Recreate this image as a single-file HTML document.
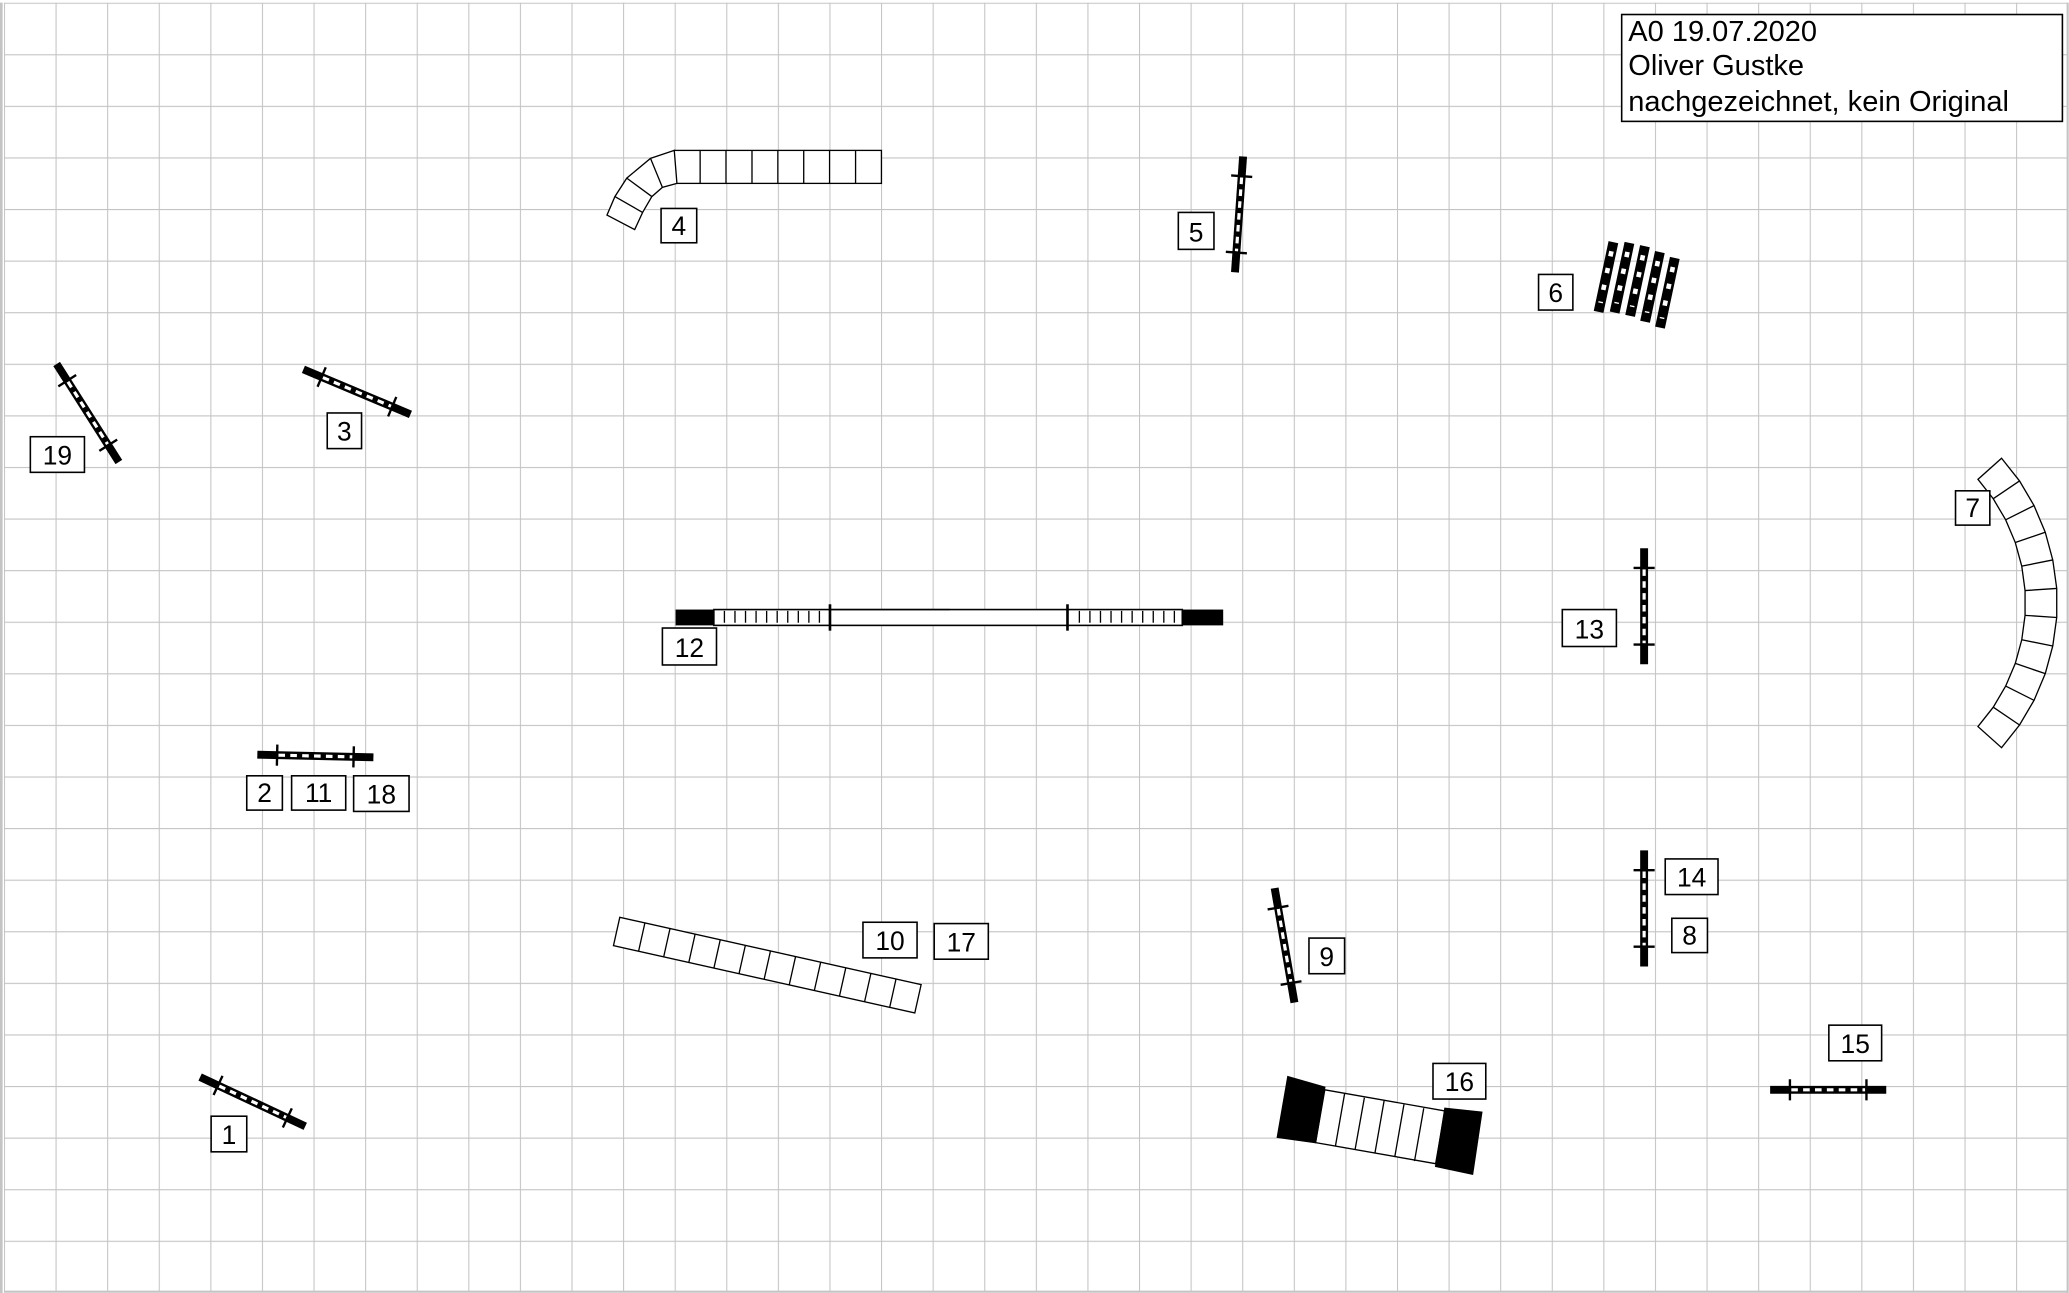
<!DOCTYPE html>
<html><head><meta charset="utf-8"><style>
html,body{margin:0;padding:0;background:#fff}
svg{display:block}
text{font-family:"Liberation Sans",Arial,sans-serif}
</style></head><body>
<svg width="2069" height="1293" viewBox="0 0 1568 980" preserveAspectRatio="none" xmlns="http://www.w3.org/2000/svg">
<defs>
<pattern id="grid" x="3" y="2" width="39.1" height="39.1" patternUnits="userSpaceOnUse">
<path d="M0 0 H39.1 M0 0 V39.1" stroke="#c4c4c4" stroke-width="1.6" fill="none"/>
</pattern>
<g id="j">
<line x1="-44" y1="0" x2="44" y2="0" stroke="#000" stroke-width="6"/>
<line x1="-28" y1="0" x2="28" y2="0" stroke="#fff" stroke-width="2.4" stroke-dasharray="5 4"/>
<line x1="-29" y1="-8" x2="-29" y2="8" stroke="#000" stroke-width="1.8"/>
<line x1="29" y1="-8" x2="29" y2="8" stroke="#000" stroke-width="1.8"/>
</g>
<g id="b">
<line x1="0" y1="-27" x2="0" y2="27" stroke="#000" stroke-width="7.5"/>
<line x1="0" y1="-20" x2="0" y2="20" stroke="#fff" stroke-width="3.5" stroke-dasharray="4 9"/>
</g>
</defs>
<rect x="0" y="0" width="1568" height="980" fill="#fff"/>
<rect x="3" y="2" width="1564" height="977.5" fill="url(#grid)"/>
<line x1="1567" y1="2" x2="1567" y2="980" stroke="#c4c4c4" stroke-width="1.6"/>
<line x1="3" y1="979" x2="1567" y2="979" stroke="#c4c4c4" stroke-width="1.6"/>
<line x1="1" y1="2" x2="1" y2="980" stroke="#c4c4c4" stroke-width="2"/>

<!-- title -->
<rect x="1229" y="11" width="334" height="81" fill="#fff" stroke="#000" stroke-width="1.2"/>
<text x="1234" y="31" font-size="22">A0 19.07.2020</text>
<text x="1234" y="57" font-size="22">Oliver Gustke</text>
<text x="1234" y="84" font-size="22">nachgezeichnet, kein Original</text>

<!-- jumps -->
<use href="#j" transform="translate(66.5,313) rotate(57.6)"/>
<use href="#j" transform="translate(270.5,297) rotate(22.8)"/>
<use href="#j" transform="translate(939,162.5) rotate(94)"/>
<use href="#j" transform="translate(1246,459.5) rotate(90)"/>
<use href="#j" transform="translate(239,573) rotate(1.3)"/>
<use href="#j" transform="translate(1246,688.5) rotate(90)"/>
<use href="#j" transform="translate(973.5,716.5) rotate(80.2)"/>
<use href="#j" transform="translate(1385.5,826) rotate(0)"/>
<use href="#j" transform="translate(191.5,835) rotate(25.1)"/>

<!-- 6 spread -->
<g transform="translate(1241,213) rotate(12)">
<use href="#b" transform="translate(-24,2)"/>
<use href="#b" transform="translate(-12,0)"/>
<use href="#b" transform="translate(0,0)"/>
<use href="#b" transform="translate(12,2)"/>
<use href="#b" transform="translate(24,4)"/>
</g>

<!-- tunnel 4 -->
<g fill="none" stroke="#000" stroke-width="1">
<rect x="511" y="114" width="157" height="25" fill="#fff"/>
<path d="M530.6 114V139M550.2 114V139M569.9 114V139M589.5 114V139M609.1 114V139M628.7 114V139M648.4 114V139"/>
<path d="M511 114 L493 120 L475 135 L466 149 L460 163 L481 174 L487 161 L494 149 L502 142 L513 139 Z" fill="#fff"/>
<path d="M493 120L502 142M475 135L494 149M466 149L487 161"/>
</g>

<!-- tunnel 7 -->
<g fill="#fff" stroke="#000" stroke-width="1">
<path d="M1516.9 347.3 L1530.5 364.5 L1541.5 383.2 L1550 403.4 L1555.7 424.4 L1558.7 446 L1558.7 468 L1555.7 489.6 L1550 510.6 L1541.5 530.8 L1530.5 549.5 L1516.9 566.7 L1499 550.7 L1510.6 536 L1520 520 L1527.3 502.8 L1532.2 484.9 L1534.7 466.4 L1534.7 447.6 L1532.2 429.1 L1527.3 411.2 L1520 394 L1510.6 378 L1499 363.3 Z"/>
<path d="M1530.5 364.5L1510.6 378M1541.5 383.2L1520 394M1550 403.4L1527.3 411.2M1555.7 424.4L1532.2 429.1M1558.7 446L1534.7 447.6M1558.7 468L1534.7 466.4M1555.7 489.6L1532.2 484.9M1550 510.6L1527.3 502.8M1541.5 530.8L1520 520M1530.5 549.5L1510.6 536" fill="none"/>
</g>

<!-- tunnel 10 -->
<g transform="translate(581.5,731.5) rotate(12.6)" fill="#fff" stroke="#000" stroke-width="1">
<rect x="-117" y="-11" width="234" height="22"/>
<path d="M-97.5 -11V11M-78 -11V11M-58.5 -11V11M-39 -11V11M-19.5 -11V11M0 -11V11M19.5 -11V11M39 -11V11M58.5 -11V11M78 -11V11M97.5 -11V11" fill="none"/>
</g>

<!-- dog walk 12 -->
<g stroke="#000">
<rect x="541" y="462" width="355" height="12" fill="#fff" stroke-width="1.2"/>
<rect x="512" y="462" width="29" height="12" fill="#000" stroke="none"/>
<rect x="896" y="462" width="31" height="12" fill="#000" stroke="none"/>
<path d="M549 463V472M557 463V472M565 463V472M573 463V472M581 463V472M589 463V472M597 463V472M605 463V472M613 463V472M621 463V472 M818 463V472M826 463V472M834 463V472M842 463V472M850 463V472M858 463V472M866 463V472M874 463V472M882 463V472M890 463V472" stroke-width="1"/>
<line x1="629" y1="458" x2="629" y2="478" stroke-width="2"/>
<line x1="809" y1="458" x2="809" y2="478" stroke-width="2"/>
<line x1="629" y1="462" x2="720" y2="462" stroke-width="1"/>
</g>

<!-- 16 -->
<g stroke="#000" stroke-width="1">
<polygon points="1004,826 1095,842 1088,882 997,866" fill="#fff"/>
<polygon points="976,816 1004,824 997,866 968,862" fill="#000"/>
<polygon points="1095,840 1123,843 1116,890 1088,884" fill="#000"/>
<path d="M1019 829L1012 869M1034 832L1027 871M1049 834L1042 874M1064 837L1057 877M1079 840L1072 880" fill="none"/>
</g>

<!-- labels -->
<g fill="#fff" stroke="#000" stroke-width="1.2">
<rect x="23" y="331" width="41" height="27"/>
<rect x="248" y="313" width="26" height="27"/>
<rect x="501" y="158" width="27" height="26"/>
<rect x="893" y="161" width="27" height="28"/>
<rect x="1166" y="208" width="26" height="27"/>
<rect x="1482" y="372" width="26" height="26"/>
<rect x="502" y="476" width="41" height="28"/>
<rect x="1184" y="462" width="41" height="28"/>
<rect x="187" y="588" width="27" height="26"/>
<rect x="221" y="588" width="41" height="26"/>
<rect x="268" y="588" width="42" height="27"/>
<rect x="1262" y="651" width="40" height="27"/>
<rect x="1267" y="696" width="27" height="26"/>
<rect x="654" y="699" width="41" height="27"/>
<rect x="708" y="700" width="41" height="27"/>
<rect x="992" y="711" width="27" height="27"/>
<rect x="1386" y="777" width="40" height="27"/>
<rect x="1086" y="806" width="40" height="27"/>
<rect x="160" y="846" width="27" height="27"/>
</g>
<g font-size="20" text-anchor="middle">
<text x="43.5" y="352">19</text>
<text x="261" y="334">3</text>
<text x="514.5" y="178">4</text>
<text x="906.5" y="183">5</text>
<text x="1179" y="229">6</text>
<text x="1495" y="392">7</text>
<text x="522.5" y="498">12</text>
<text x="1204.5" y="484">13</text>
<text x="200.5" y="608">2</text>
<text x="241.5" y="608">11</text>
<text x="289" y="609">18</text>
<text x="1282" y="672">14</text>
<text x="1280.5" y="716">8</text>
<text x="674.5" y="720">10</text>
<text x="728.5" y="721">17</text>
<text x="1005.5" y="732">9</text>
<text x="1406" y="798">15</text>
<text x="1106" y="827">16</text>
<text x="173.5" y="867">1</text>
</g>
</svg>
</body></html>
